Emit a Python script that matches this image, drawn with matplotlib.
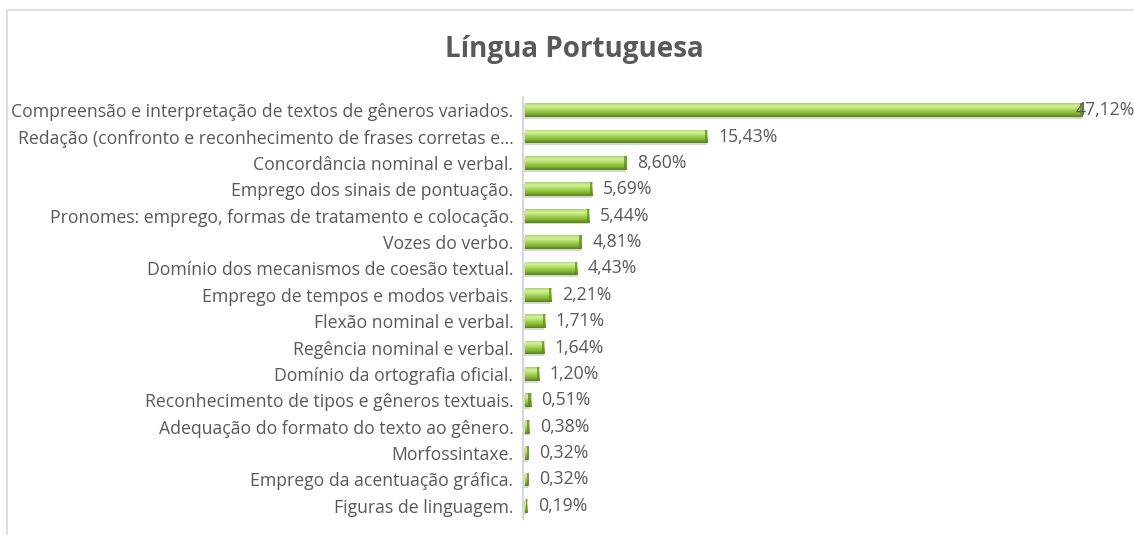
import matplotlib
matplotlib.use("Agg")
import matplotlib.pyplot as plt
import numpy as np
from matplotlib.colors import LinearSegmentedColormap
from matplotlib.patches import Rectangle

categories = [
    "Compreensão e interpretação de textos de gêneros variados.",
    "Redação (confronto e reconhecimento de frases corretas e…",
    "Concordância nominal e verbal.",
    "Emprego dos sinais de pontuação.",
    "Pronomes: emprego, formas de tratamento e colocação.",
    "Vozes do verbo.",
    "Domínio dos mecanismos de coesão textual.",
    "Emprego de tempos e modos verbais.",
    "Flexão nominal e verbal.",
    "Regência nominal e verbal.",
    "Domínio da ortografia oficial.",
    "Reconhecimento de tipos e gêneros textuais.",
    "Adequação do formato do texto ao gênero.",
    "Morfossintaxe.",
    "Emprego da acentuação gráfica.",
    "Figuras de linguagem.",
]
values = [47.12, 15.43, 8.60, 5.69, 5.44, 4.81, 4.43, 2.21, 1.71, 1.64, 1.20,
          0.51, 0.38, 0.32, 0.32, 0.19]
value_labels = ["47,12%", "15,43%", "8,60%", "5,69%", "5,44%", "4,81%", "4,43%",
                "2,21%", "1,71%", "1,64%", "1,20%", "0,51%", "0,38%", "0,32%",
                "0,32%", "0,19%"]
title = "Língua Portuguesa"

plt.rcParams['font.family'] = ['Open Sans', 'DejaVu Sans']
W, H = 1134, 535
fig = plt.figure(figsize=(W / 100, H / 100), dpi=100)
fig.patch.set_facecolor("white")

# outer chart frame (top and left visible)
fig.patches.append(Rectangle((7 / W, -0.1), 1.2, (H - 10) / H + 0.1,
                             transform=fig.transFigure, fill=False,
                             edgecolor="#d9d9d9", linewidth=1.2))

left, right, top, bottom = 523, 1109, 97, 519
ax = fig.add_axes([left / W, 1 - bottom / H, (right - left) / W, (bottom - top) / H])
n = len(values)
y = np.arange(n)
bar_h = 0.52

# shadow
ax.barh(y + 0.07, values, height=bar_h, left=0.1, color="#000000", alpha=0.16,
        linewidth=0, zorder=1)
bars = ax.barh(y, values, height=bar_h, left=0.15, color="#92c84a", linewidth=0, zorder=2)

cmap = LinearSegmentedColormap.from_list(
    "g", [(0.0, "#a6d462"), (0.22, "#d6f2a2"), (0.5, "#a6d655"),
          (0.8, "#7cae2e"), (1.0, "#54801b")])
grad = np.linspace(0, 1, 64).reshape(-1, 1)
for b in bars:
    x0, y0 = b.get_x(), b.get_y()
    w, h = b.get_width(), b.get_height()
    im = ax.imshow(grad, cmap=cmap, aspect="auto", extent=(x0, x0 + w, y0 + h, y0),
                   zorder=3, interpolation="bicubic")
    im.set_clip_path(b)
    cap = min(0.2, w * 0.5)
    ax.add_patch(Rectangle((x0 + w - cap, y0), cap, h,
                           color="#5c8a22", alpha=0.75, linewidth=0, zorder=4))

ax.set_xlim(0, 49.5)
ax.set_ylim(n - 0.5, -0.5)

fs = 12.7
for i, (v, lab) in enumerate(zip(values, value_labels)):
    if i == 0:
        ax.annotate(lab, (v, i), xytext=(-4, 0), textcoords="offset points",
                    va="center", ha="left", fontsize=fs, color="#595959",
                    annotation_clip=False, zorder=6)
    else:
        ax.annotate(lab, (v, i), xytext=(9, 0), textcoords="offset points",
                    va="center", ha="left", fontsize=fs, color="#595959", zorder=6)

ax.set_yticks(y)
ax.set_yticklabels(categories, fontsize=fs, color="#595959")
ax.tick_params(axis="y", length=0, pad=7)
ax.set_xticks([])
for s in ["top", "right", "bottom"]:
    ax.spines[s].set_visible(False)
ax.spines["left"].set_color("#d0d0d0")
ax.spines["left"].set_linewidth(1.2)
ax.set_facecolor("none")

fig.text(574 / W, 1 - 49 / H, title, ha="center", va="center", fontsize=20,
         fontweight="bold", color="#595959")

fig.savefig("out.png", dpi=100)
